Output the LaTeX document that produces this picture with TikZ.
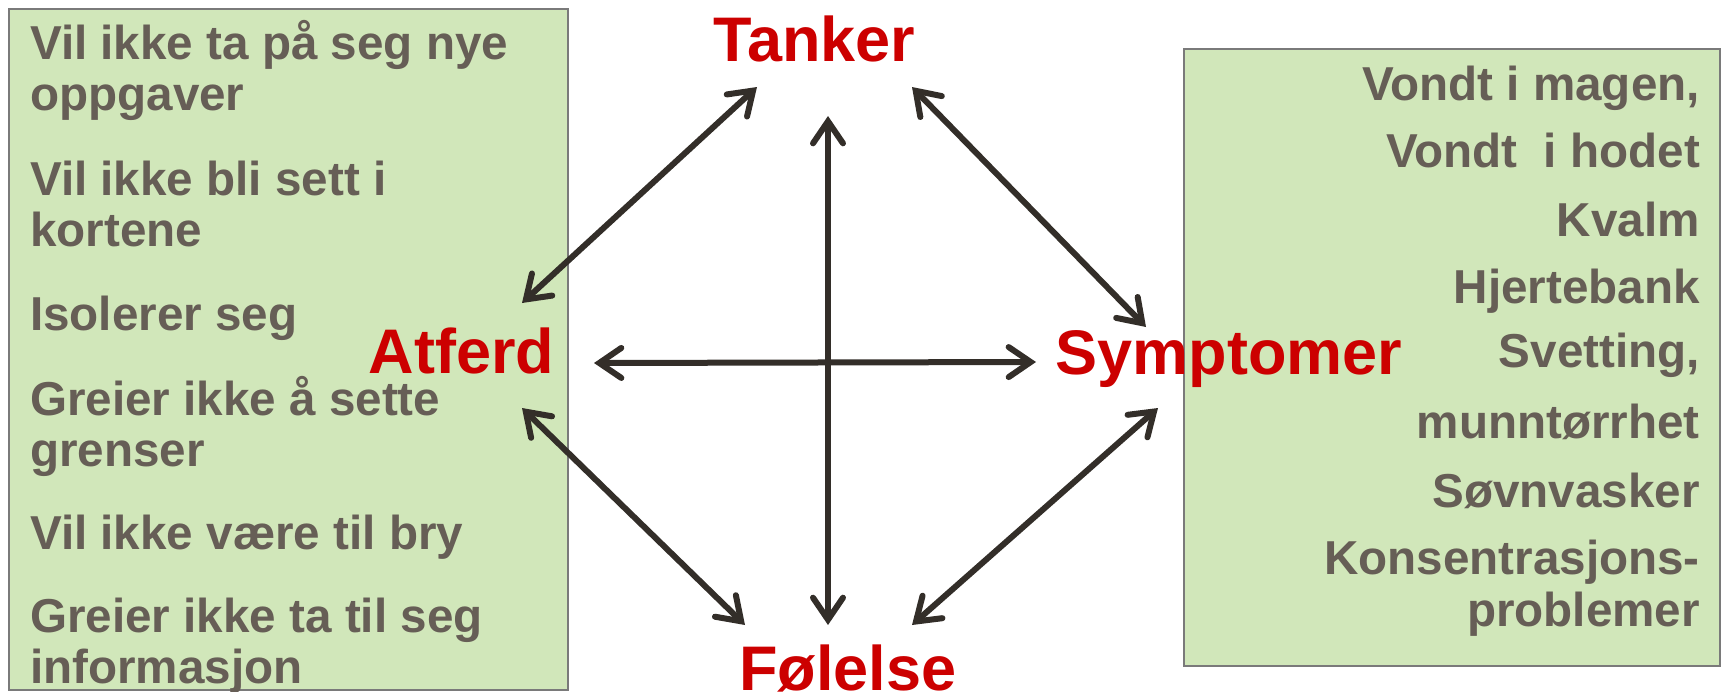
\documentclass[tikz,border=0pt]{standalone}
\usepackage{fontspec}
\setmainfont{Liberation Sans}
\usetikzlibrary{arrows.meta}
\definecolor{boxfill}{HTML}{D1E7BA}
\definecolor{boxline}{HTML}{7A7A7A}
\definecolor{itemtxt}{HTML}{665E56}
\definecolor{lblred}{HTML}{CC0000}
\definecolor{arrowcol}{HTML}{332E29}
\begin{document}
\begin{tikzpicture}[x=1pt,y=-1pt,
  greenbox/.style={draw=boxline, fill=boxfill, line width=2pt},
  lefttxt/.style={anchor=base west, inner sep=0pt, align=left, text=itemtxt, font=\fontsize{47.6}{51}\selectfont\bfseries},
  righttxt/.style={anchor=base east, inner sep=0pt, align=right, text=itemtxt, font=\fontsize{47.6}{52}\selectfont\bfseries},
  bigtxt/.style={anchor=base, inner sep=0pt, text=lblred, font=\fontsize{63}{70}\selectfont\bfseries},
  link/.style={draw=arrowcol, line width=6pt, line cap=round,
    {Straight Barb[length=22pt,width=30pt,line cap=round]}-{Straight Barb[length=22pt,width=30pt,line cap=round]}}
]
\useasboundingbox (0,0) rectangle (1721,691);

% boxes
\draw[greenbox] (8.5,8.5) rectangle (568,690);
\draw[greenbox] (1183.5,49) rectangle (1719.5,666);

% left items (base = baseline of last line)
\node[lefttxt] (l1) at (30,110) {Vil ikke ta på seg nye\\oppgaver};
\node[lefttxt] (l2) at (30,246) {Vil ikke bli sett i\\kortene};
\node[lefttxt] (l3) at (30,330) {Isolerer seg};
\node[lefttxt] (l4) at (30,466) {Greier ikke å sette\\grenser};
\node[lefttxt] (l5) at (30,549) {Vil ikke være til bry};
\node[lefttxt] (l6) at (30,683) {Greier ikke ta til seg\\informasjon};

% right items
\node[righttxt] (r1) at (1700,100) {Vondt i magen,};
\node[righttxt] (r2) at (1700,167) {Vondt\ \ i hodet};
\node[righttxt] (r3) at (1700,236) {Kvalm};
\node[righttxt] (r4) at (1700,303) {Hjertebank};
\node[righttxt] (r5) at (1700,367) {Svetting,};
\node[righttxt] (r6) at (1700,438) {munntørrhet};
\node[righttxt] (r7) at (1700,507) {Søvnvasker};
\node[righttxt] (r8) at (1700,626) {Konsentrasjons-\\problemer};

% main labels
\node[bigtxt] (tanker) at (814.5,61) {Tanker};
\node[bigtxt] (atferd) at (461.5,373) {Atferd};
\node[bigtxt] (symptomer) at (1229,374) {Symptomer};
\node[bigtxt] (folelse) at (848,690) {Følelse};

% connector ends
\coordinate (AtferdNE) at (522,303);
\coordinate (TankerSW) at (757,87);
\coordinate (TankerS) at (828,116);
\coordinate (FolelseN) at (828,625);
\coordinate (TankerSE) at (912,87);
\coordinate (SymptomerNW) at (1146,327);
\coordinate (AtferdE) at (594,363);
\coordinate (SymptomerW) at (1036,362);
\coordinate (AtferdSE) at (522,408);
\coordinate (FolelseNW) at (745,625);
\coordinate (SymptomerSW) at (1158,408);
\coordinate (FolelseNE) at (912,625);

% connectors
\draw[link] (AtferdNE) -- (TankerSW);
\draw[link] (TankerS) -- (FolelseN);
\draw[link] (TankerSE) -- (SymptomerNW);
\draw[link] (AtferdE) -- (SymptomerW);
\draw[link] (AtferdSE) -- (FolelseNW);
\draw[link] (SymptomerSW) -- (FolelseNE);
\end{tikzpicture}
\end{document}
